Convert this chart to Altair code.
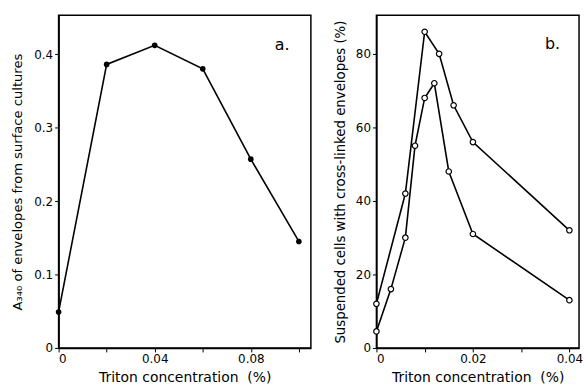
import altair as alt
import pandas as pd

# Panel a data
a_conc = [0.0, 0.02, 0.04, 0.06, 0.08, 0.10]
a_abs = [0.049, 0.386, 0.412, 0.380, 0.257, 0.145]

# Panel b data
b_upper_conc = [0.0, 0.006, 0.010, 0.013, 0.016, 0.020, 0.040]
b_upper_pct = [12, 42, 86, 80, 66, 56, 32]
b_lower_conc = [0.0, 0.003, 0.006, 0.008, 0.010, 0.012, 0.015, 0.020, 0.040]
b_lower_pct = [4.5, 16, 30, 55, 68, 72, 48, 31, 13]

a_ticks = [0, 0.02, 0.04, 0.06, 0.08, 0.10]
a_yticks = [0, 0.1, 0.2, 0.3, 0.4]
b_ticks = [0, 0.01, 0.02, 0.03, 0.04]
b_yticks = [0, 20, 40, 60, 80]

FONT = "DejaVu Sans"
XTITLE = "Triton concentration\u00a0\u00a0(%)"

df_a = pd.DataFrame({"conc": a_conc, "val": a_abs})
df_b = pd.concat([
    pd.DataFrame({"conc": b_upper_conc, "val": b_upper_pct, "series": "upper"}),
    pd.DataFrame({"conc": b_lower_conc, "val": b_lower_pct, "series": "lower"}),
])
lab_a = pd.DataFrame({"conc": [0.093], "val": [0.413], "t": ["a."]})
lab_b = pd.DataFrame({"conc": [0.0365], "val": [82.7], "t": ["b."]})

xa = alt.X("conc:Q", scale=alt.Scale(domain=[0, 0.105], nice=False, zero=True),
           axis=alt.Axis(values=a_ticks, title=XTITLE,
                         labelExpr="datum.value == 0 ? '0' : (abs(datum.value - 0.04) < 1e-9 ? '0.04' : (abs(datum.value - 0.08) < 1e-9 ? '0.08' : ''))",
                         grid=False, tickSize=4, titlePadding=6, titleFontWeight="normal"))
ya = alt.Y("val:Q", scale=alt.Scale(domain=[0, 0.453], nice=False),
           axis=alt.Axis(values=a_yticks, title="A₃₄₀ of envelopes from surface cultures",
                         labelExpr="datum.value == 0 ? '0' : format(datum.value, '.1f')",
                         grid=False, tickSize=4, titlePadding=9, titleFontWeight="normal",
                         titleFontSize=13.2))

line_a = alt.Chart(df_a).mark_line(color="black", strokeWidth=1.6).encode(x=xa, y=ya)
pts_a = alt.Chart(df_a).mark_point(filled=True, color="black", size=32, opacity=1).encode(x=xa, y=ya)
txt_a = alt.Chart(lab_a).mark_text(font=FONT, fontSize=16, color="black").encode(x=xa, y=ya, text="t:N")
panel_a = alt.layer(line_a, pts_a, txt_a).properties(width=254, height=335)

xb = alt.X("conc:Q", scale=alt.Scale(domain=[0, 0.042], nice=False, zero=True),
           axis=alt.Axis(values=b_ticks, title=XTITLE,
                         labelExpr="datum.value == 0 ? '0' : (abs(datum.value - 0.02) < 1e-9 ? '0.02' : (abs(datum.value - 0.04) < 1e-9 ? '0.04' : ''))",
                         grid=False, tickSize=4, titlePadding=6, titleFontWeight="normal"))
yb = alt.Y("val:Q", scale=alt.Scale(domain=[0, 90.5], nice=False),
           axis=alt.Axis(values=b_yticks, title="Suspended cells with cross-linked envelopes (%)",
                         grid=False, tickSize=4, titlePadding=8, titleFontWeight="normal",
                         titleFontSize=13.4))

line_b = alt.Chart(df_b).mark_line(color="black", strokeWidth=1.6).encode(x=xb, y=yb, detail="series:N")
pts_b = alt.Chart(df_b).mark_point(filled=False, fill="white", color="black", size=30,
                                   strokeWidth=1.2, opacity=1).encode(x=xb, y=yb)
txt_b = alt.Chart(lab_b).mark_text(font=FONT, fontSize=16, color="black").encode(x=xb, y=yb, text="t:N")
panel_b = alt.layer(line_b, pts_b, txt_b).properties(width=204, height=335)

chart = alt.hconcat(panel_a, panel_b, spacing=20).properties(
    padding={"left": 10, "top": 13, "right": 0, "bottom": 0}, background="white"
).configure_view(stroke="black", strokeWidth=1.5).configure_axis(
    labelFont=FONT, titleFont=FONT, labelFontSize=12, titleFontSize=14,
    titleFontWeight="normal", labelColor="black", titleColor="black",
    domainColor="black", tickColor="black", domainWidth=1.5, labelPadding=2
)

chart.save("out.html", embed_options={"renderer": "svg", "actions": False})
